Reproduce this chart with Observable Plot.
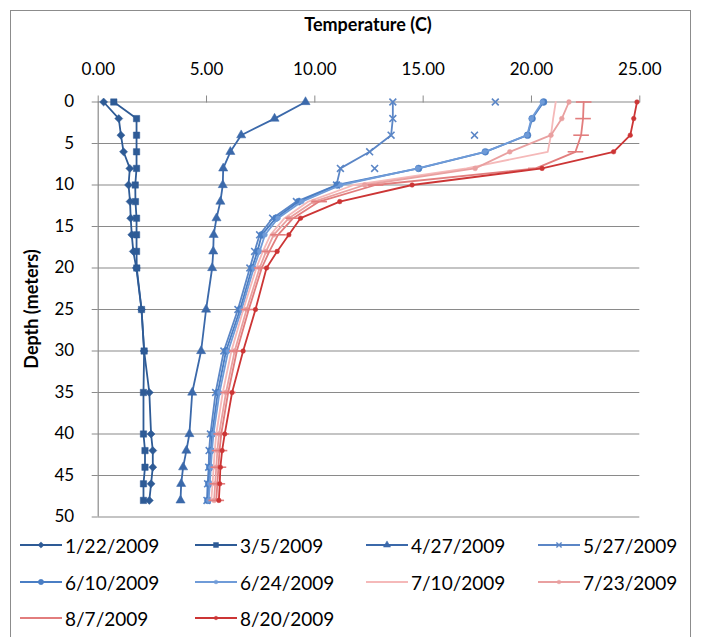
<!DOCTYPE html>
<html><head><meta charset="utf-8">
<script src="https://cdn.jsdelivr.net/npm/d3@7"></script>
<script src="https://cdn.jsdelivr.net/npm/@observablehq/plot@0.6"></script>
<style>
body{margin:0;background:#fff;font-family:Lato,"Open Sans",sans-serif;}
#wrap{position:relative;width:702px;height:637px;overflow:hidden;background:#fff}
#frame{position:absolute;left:10px;top:10px;width:679px;height:660px;border:1px solid #8c8c8c;}
#chart{position:absolute;left:0;top:0}
#xtitle{position:absolute;left:97px;width:542px;top:13px;text-align:center;font-weight:bold;font-size:18px;color:#000}
#ytitle{position:absolute;left:31px;top:309px;transform:translate(-50%,-50%) rotate(-90deg);font-weight:bold;font-size:18px;white-space:nowrap}
#legend{position:absolute;left:0;top:0}
.li{position:absolute;display:flex;align-items:center;font-size:19px;color:#000;white-space:nowrap}
.li svg{margin-right:3px}
</style></head>
<body><div id="wrap"><div id="frame"></div><div id="chart"></div><div id="xtitle">Temperature (C)</div><div id="ytitle">Depth (meters)</div><div id="legend"></div></div>
<script>
const depths = [0,2,4,6,8,10,12,14,16,18,20,25,30,35,40,42,44,46,48];
const xTicks = [0,5,10,15,20,25];
const yTicks = [0,5,10,15,20,25,30,35,40,45,50];
const seriesNames = ["1/22/2009","3/5/2009","4/27/2009","5/27/2009","6/10/2009","6/24/2009","7/10/2009","7/23/2009","8/7/2009","8/20/2009"];
const t0122 = [0.25,0.95,1.05,1.17,1.46,1.40,1.47,1.50,1.55,1.62,1.76,2.0,2.12,2.36,2.44,2.52,2.52,2.44,2.36];
const t0305 = [0.72,1.77,1.77,1.77,1.77,1.71,1.72,1.77,1.77,1.77,1.78,2.0,2.12,2.09,2.09,2.16,2.16,2.09,2.09];
const t0427 = [9.57,8.14,6.60,6.10,5.77,5.75,5.64,5.46,5.33,5.31,5.26,4.98,4.75,4.34,4.21,4.07,3.92,3.83,3.80];
const t0527 = [13.60,13.60,13.52,12.53,11.18,11.0,9.15,8.05,7.45,7.22,7.0,6.45,5.80,5.42,5.18,5.12,5.10,5.05,5.02];
const t0527extraT = [18.33,17.37,12.76];
const t0527extraD = [0,4,8];
const t0610 = [20.56,20.03,19.82,17.87,14.79,11.03,9.25,8.20,7.55,7.35,7.10,6.55,5.90,5.52,5.26,5.20,5.15,5.10,5.06];
const t0624 = [20.50,20.0,19.80,17.85,14.75,11.20,9.40,8.30,7.70,7.45,7.18,6.62,6.0,5.60,5.32,5.25,5.20,5.15,5.10];
const t0710 = [21.12,21.0,20.9,20.75,17.0,11.8,9.7,8.6,7.95,7.6,7.3,6.7,6.15,5.75,5.45,5.38,5.33,5.28,5.22];
const t0723 = [21.73,21.40,20.90,19.0,17.40,12.3,9.95,8.8,8.1,7.75,7.45,6.85,6.3,5.9,5.58,5.50,5.45,5.40,5.35];
const t0807 = [22.41,22.38,22.29,22.03,20.2,12.8,10.2,9.0,8.3,7.9,7.55,6.95,6.4,6.0,5.68,5.60,5.55,5.50,5.45];
const t0820 = [24.87,24.72,24.56,23.79,20.49,14.49,11.15,9.34,8.80,8.26,7.77,7.26,6.69,6.18,5.84,5.72,5.64,5.61,5.57];
const seriesTemps = [t0122,t0305,t0427,t0527,t0610,t0624,t0710,t0723,t0807,t0820];
const colors = ["#2e5b96","#2e5b96","#3b69aa","#5b86c6","#4a7ec4","#6f9bd8","#f5b9b9","#e9a0a0","#e27d7d","#cc3535"];
const dash = {draw(ctx, size){ const w = Math.sqrt(size)*1.1; ctx.moveTo(-w,0); ctx.lineTo(w,0); }};
const markers = [
  {symbol:"diamond2", r:3.6, fill:true},
  {symbol:"square", r:3.6, fill:true},
  {symbol:"triangle", r:3.4, fill:true},
  {symbol:"times", r:3.2, fill:false},
  {symbol:"circle", r:3.4, fill:true},
  {symbol:"circle", r:2.4, fill:true},
  null,
  {symbol:"circle", r:2.4, fill:true},
  {symbol:dash, r:4, fill:false},
  {symbol:"circle", r:2.3, fill:true}
];

const rows = [];
seriesTemps.forEach((arr,i)=>arr.forEach((t,j)=>rows.push({s:i, t, d:depths[j]})));
const extra = t0527extraT.map((t,i)=>({t, d:t0527extraD[i]}));

const marks = [
  Plot.ruleY(yTicks, {stroke:"#8a8a8a", strokeWidth:1.2}),
  Plot.ruleX([0], {stroke:"#8a8a8a", strokeWidth:1.2}),
  Plot.axisX({anchor:"top", ticks:xTicks, tickFormat:d=>d.toFixed(2), tickSize:7, tickPadding:20, fontSize:17, label:null, stroke:"#8a8a8a"}),
  Plot.axisY({anchor:"left", ticks:yTicks, tickSize:6, tickPadding:18, fontSize:17, label:null, stroke:"#8a8a8a"})
];
seriesTemps.forEach((arr,i)=>{
  const data = rows.filter(r=>r.s===i);
  marks.push(Plot.line(data,{x:"t",y:"d",stroke:colors[i],strokeWidth:1.8}));
  const m = markers[i];
  if(m){
    marks.push(Plot.dot(data,{x:"t",y:"d",symbol:m.symbol,r:m.r,
      fill:m.fill?colors[i]:"none",stroke:colors[i],strokeWidth:m.fill?0.5:1.6}));
  }
});
marks.push(Plot.dot(extra,{x:"t",y:"d",symbol:"times",r:3.2,stroke:colors[3],strokeWidth:1.6,fill:"none"}));

const chart = Plot.plot({
  width:702, height:530,
  marginLeft:97.7, marginRight:62.7, marginTop:101.5, marginBottom:13.5,
  style:{fontFamily:"Lato, 'Open Sans', sans-serif", color:"#000", background:"transparent"},
  x:{domain:[0,25]},
  y:{domain:[0,50], reverse:true},
  marks
});
document.getElementById("chart").appendChild(chart);

// legend
const lg = document.getElementById("legend");
const cols = [20,195,366,538];
const rowsY = [545,582,618];
seriesNames.forEach((name,i)=>{
  const c = i%4, r = Math.floor(i/4);
  const div = document.createElement("div");
  div.className="li";
  div.style.left = cols[c]+"px";
  div.style.top = (rowsY[r]-13)+"px";
  div.style.height="26px";
  const svg = d3.create("svg").attr("width",42).attr("height",14);
  svg.append("line").attr("x1",0).attr("x2",42).attr("y1",7).attr("y2",7).attr("stroke",colors[i]).attr("stroke-width",1.8);
  const m = markers[i];
  if(m){
    const symType = typeof m.symbol==="string" ? ({diamond2:d3.symbolDiamond2,square:d3.symbolSquare,triangle:d3.symbolTriangle,times:d3.symbolTimes,circle:d3.symbolCircle})[m.symbol] : m.symbol;
    const size = Math.PI*m.r*m.r*0.6;
    svg.append("path").attr("d",d3.symbol(symType,size)()).attr("transform","translate(21,7)")
      .attr("fill",m.fill?colors[i]:"none").attr("stroke",colors[i]).attr("stroke-width",m.fill?0.5:1.4);
  }
  div.appendChild(svg.node());
  const sp = document.createElement("span"); sp.textContent=name; div.appendChild(sp);
  lg.appendChild(div);
});
</script>
</body></html>
